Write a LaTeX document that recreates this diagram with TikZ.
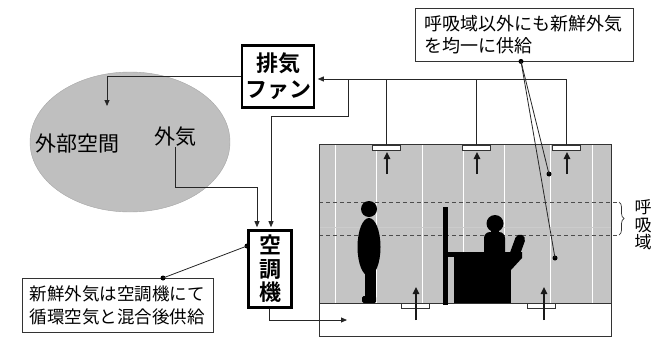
\documentclass[tikz,border=0pt]{standalone}
\usepackage{fontspec}
\newfontfamily\jp{Noto Sans CJK JP}
\newfontfamily\jpb{Noto Sans CJK JP Bold}
\usetikzlibrary{arrows.meta,shapes.geometric,decorations.pathreplacing}
\begin{document}
\begin{tikzpicture}[x=1pt,y=-1pt,
  line/.style={draw=black!85, line width=0.8pt},
  arr/.style={line, -{Triangle[length=6pt,width=5pt]}},
  flow/.style={draw=black!90, line width=1.4pt, -{Triangle[length=7pt,width=6.5pt]}},
  unitbox/.style={draw=black, line width=2.6pt, fill=white, align=center, inner sep=0pt,
    font=\jpb\fontsize{22}{26}\selectfont},
  note/.style={draw=black!80, line width=0.8pt, fill=white, align=left, inner sep=0pt},
  dot/.style={circle, fill=black, inner sep=0pt, minimum size=5pt},
  vent/.style={draw=black!80, line width=0.7pt, fill=white, minimum width=28pt,
    minimum height=5pt, inner sep=0pt},
  lbl/.style={font=\jp\fontsize{21}{24}\selectfont, inner sep=0pt},
]
\useasboundingbox (0,0) rectangle (655,340);

% outside space
\node[ellipse, draw=black!35, fill=black!25, minimum width=200pt, minimum height=140pt,
  inner sep=0pt] (outer) at (130,142) {};
\node[lbl] (space) at (77,144) {外部空間};
\node[lbl] (oa) at (175,137) {外気};

% room: hatched occupied zone and underfloor plenum
\fill[black!23] (319,144) rectangle (611,303);
\foreach \x in {335,376,422,463,504,550,592}
  \draw[white, line width=1pt] (\x,145) -- (\x,303);
\draw[white!80!black, line width=0.6pt] (319,227) -- (611,227);
\draw[black!70, dashed, dash pattern=on 4pt off 3pt, line width=0.6pt] (319,202) -- (618,202);
\draw[black!70, dashed, dash pattern=on 4pt off 3pt, line width=0.6pt] (319,235) -- (618,235);
\draw[black!80, line width=0.8pt] (319,144) rectangle (611,336);
\draw[black!80, line width=0.8pt] (319,303) -- (611,303);

% breathing zone brace and label
\draw[black!80, line width=0.7pt, decorate, decoration={brace, amplitude=5pt}] (619,202) -- (619,235);
\node[font=\jp\fontsize{17}{17.5}\selectfont, align=center, inner sep=0pt] (bz) at (643,225) {呼\\吸\\域};

% units
\node[unitbox, minimum width=72pt, minimum height=62pt] (fan) at (278,76.5) {排気\\ファン};
\node[unitbox, minimum width=43pt, minimum height=77pt, font=\jpb\fontsize{22}{23.5}\selectfont]
  (ac) at (270,269) {空\\調\\機};

% ceiling and floor diffusers
\node[vent] (v1) at (386,147.5) {};
\node[vent] (v2) at (476,147.5) {};
\node[vent] (v3) at (566,147.5) {};
\node[vent] (f1) at (415,305.5) {};
\node[vent] (f2) at (541,306) {};

% exhaust duct network
\coordinate (duct) at (566,79);
\coordinate (tee) at (348,79);
\coordinate (bend) at (348,116);
\coordinate (exh) at (107,106);
\coordinate (oabend) at (175,187);
\coordinate (sup) at (347,320);
\draw[line] (v3.north) -- (duct);
\draw[line] (v1.north) -- (v1.north |- duct);
\draw[line] (v2.north) -- (v2.north |- duct);
\draw[arr, shorten >=2.5pt] (duct) -- (duct -| fan.east);
\draw[arr, shorten >=2pt] (tee) -- (bend) -| ([xshift=1pt]ac.north);
\draw[arr] (fan.west) -| (exh);
\draw[arr, shorten >=2pt] (oa.south) -- (oabend) -| ([xshift=-13pt]ac.north);
\draw[arr] ([xshift=-1pt]ac.south) |- (sup);

% air movement in the room
\coordinate (u1) at (387,174);
\coordinate (u2) at (477,174);
\coordinate (u3) at (567,174);
\coordinate (t1top) at (387,152);
\coordinate (t2top) at (477,152);
\coordinate (t3top) at (567,152);
\foreach \c/\v in {u1/t1top,u2/t2top,u3/t3top}
  \draw[flow] (\c) -- (\v);
\coordinate (w1) at (416,320);
\coordinate (w2) at (544,320);
\coordinate (w1top) at (416,287);
\coordinate (w2top) at (544,287);
\draw[flow] (w1) -- (w1top);
\draw[flow] (w2) -- (w2top);

% standing person
\fill (369,209) circle[radius=8pt];
\fill (369,247) ellipse[x radius=11.5pt, y radius=29pt];
\fill (365,262) rectangle (376,299);
\fill[rounded corners=1.5pt] (362,296) rectangle (376,303);

% partition, desk, seated person and chair
\fill (443,207) rectangle (448,305);
\fill (448,252) rectangle (456,257);
\fill (454,252) rectangle (511,303);
\fill (495,223.5) circle[radius=8.5pt];
\fill (491,228) rectangle (499,234);
\fill[rounded corners=6pt] (484,232) rectangle (505,262);
\fill (505,252) -- (522,252) -- (522,258) -- (511,270) -- (505,270) -- cycle;
\node[fill=black, rounded corners=5pt, minimum width=10pt, minimum height=28pt,
  inner sep=0pt, rotate=-20] (chair) at (517,248) {};

% callouts
\node[note, minimum width=218pt, minimum height=53pt, text width=200pt,
  font=\jp\fontsize{18}{22}\selectfont] (note1) at (524,34.5) {呼吸域以外にも新鮮外気\\を均一に供給};
\node[dot] (n1dot) at ([xshift=-3pt]note1.south) {};
\node[dot] (t1) at (549,174) {};
\node[dot] (t2) at (555,258) {};
\draw[line] (n1dot.center) -- (t1.center);
\draw[line] (n1dot.center) -- (t2.center);

\node[note, minimum width=191pt, minimum height=54pt, text width=176pt,
  font=\jp\fontsize{17.5}{23}\selectfont] (note2) at (117.5,305) {新鮮外気は空調機にて\\循環空気と混合後供給};
\node[dot] (n2dot) at (163,278) {};
\node[dot] (acdot) at (247,246) {};
\draw[line] (n2dot.center) -- (acdot.center);
\end{tikzpicture}
\end{document}
